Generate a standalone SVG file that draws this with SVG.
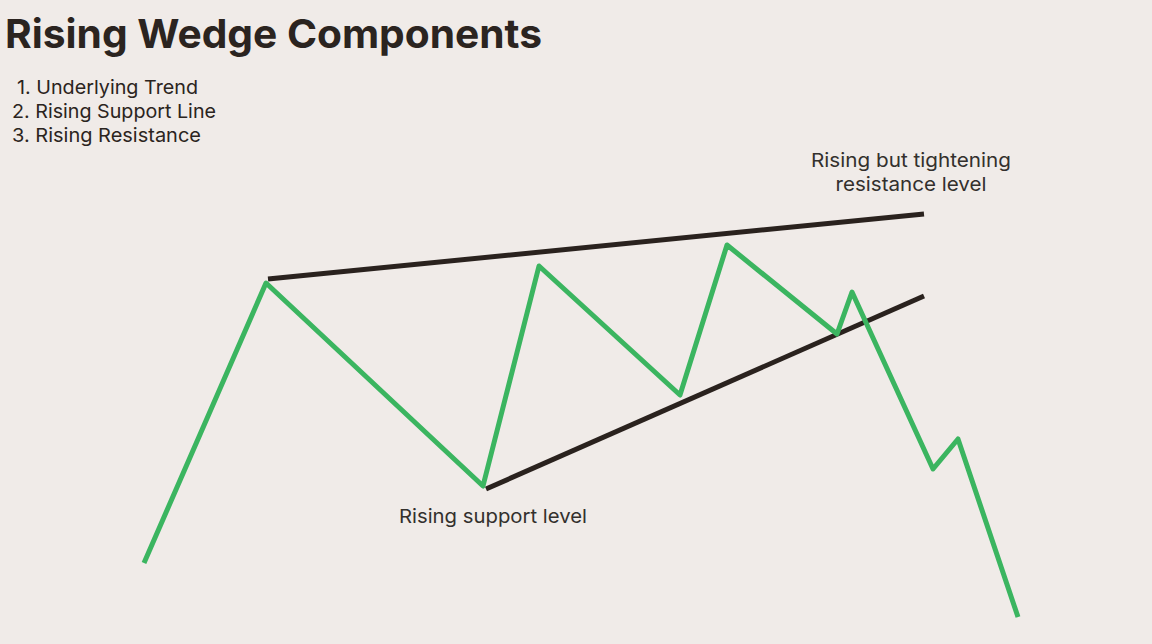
<svg xmlns="http://www.w3.org/2000/svg" width="1152" height="644" viewBox="0 0 1152 644">
<style>
.t{font-family:"Inter","Noto Sans","Liberation Sans",sans-serif;fill:#2b2420}
.title{font-size:40px;font-weight:700}
.lst{font-size:19px;font-weight:400}
.lbl{font-size:19px;font-weight:400;fill:#33302d}
.price{fill:none;stroke:#3bb560;stroke-width:5;stroke-linejoin:round;stroke-linecap:butt}
.trend{fill:none;stroke:#2a221e;stroke-width:5}
</style>
<rect width="1152" height="644" fill="#f0ebe8"/>
<g id="title"><text class="t title" x="5" y="48" textLength="537" lengthAdjust="spacingAndGlyphs">Rising Wedge Components</text></g>
<g id="list">
<text class="t lst" x="17" y="94" textLength="181" lengthAdjust="spacingAndGlyphs">1. Underlying Trend</text>
<text class="t lst" x="12" y="118" textLength="204" lengthAdjust="spacingAndGlyphs">2. Rising Support Line</text>
<text class="t lst" x="12" y="142" textLength="189" lengthAdjust="spacingAndGlyphs">3. Rising Resistance</text>
</g>
<g id="connectors">
<line id="resistance-line" class="trend" x1="268" y1="279" x2="924" y2="214"/>
<line id="support-line" class="trend" x1="486" y1="489" x2="924" y2="296"/>
<polyline id="price-path" class="price" points="144,563 266,283 483,486 539,266 680,395 727,245 837,334 852,292 933,469 958,439 1018,617"/>
</g>
<g id="label-resistance">
<text class="t lbl" x="911" y="167" text-anchor="middle" textLength="200" lengthAdjust="spacingAndGlyphs">Rising but tightening</text>
<text class="t lbl" x="911" y="191" text-anchor="middle" textLength="151" lengthAdjust="spacingAndGlyphs">resistance level</text>
</g>
<g id="label-support">
<text class="t lbl" x="399" y="523" textLength="188" lengthAdjust="spacingAndGlyphs">Rising support level</text>
</g>
</svg>
